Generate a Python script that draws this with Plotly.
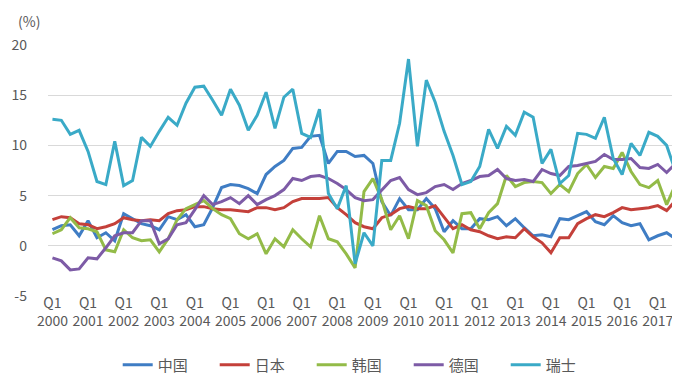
import plotly.graph_objects as go

# Quarterly categories 2000Q1 .. 2017Q3
years = list(range(2000, 2018))
quarters = [f"{y}Q{q}" for y in years for q in range(1, 5)][:71]

tick_years = list(range(2000, 2018))
tick_labels = [f"Q1<br>{y}" for y in tick_years]

china = [1.6, 2.0, 2.1, 1.0, 2.5, 0.8, 1.3, 0.5, 3.2, 2.7, 2.2, 2.0, 1.6, 2.9, 2.6, 3.1,
         1.9, 2.1, 3.8, 5.8, 6.1, 6.0, 5.7, 5.2, 7.1, 7.9, 8.5, 9.7, 9.8, 10.9, 11.0, 8.2,
         9.4, 9.4, 8.9, 9.0, 8.2, 4.4, 3.0, 4.7, 3.6, 3.6, 4.7, 3.7, 1.4, 2.5, 1.7, 1.7,
         2.7, 2.6, 2.9, 2.0, 2.7, 1.8, 1.0, 1.1, 0.9, 2.7, 2.6, 3.0, 3.4, 2.4, 2.1, 3.0,
         2.3, 2.0, 2.2, 0.6, 1.0, 1.3, 0.7]
japan = [2.6, 2.9, 2.8, 2.2, 2.1, 1.7, 1.9, 2.2, 2.8, 2.6, 2.5, 2.6, 2.5, 3.2, 3.5, 3.6,
         3.9, 3.9, 3.7, 3.6, 3.6, 3.5, 3.4, 3.8, 3.8, 3.6, 3.8, 4.4, 4.7, 4.7, 4.7, 4.8,
         3.8, 3.1, 2.3, 1.9, 1.7, 2.8, 3.1, 3.7, 3.9, 3.7, 3.7, 4.0, 2.9, 1.7, 2.1, 1.6,
         1.4, 1.0, 0.7, 0.9, 0.8, 1.7, 0.9, 0.3, -0.7, 0.8, 0.8, 2.2, 2.7, 3.1, 2.9, 3.3,
         3.8, 3.6, 3.7, 3.8, 4.0, 3.5, 4.5]
korea = [1.2, 1.6, 2.8, 1.8, 1.7, 1.4, -0.4, -0.6, 1.6, 0.8, 0.5, 0.6, -0.6, 0.7, 2.6, 3.7,
         4.1, 4.5, 3.7, 3.1, 2.7, 1.2, 0.7, 1.2, -0.8, 0.7, -0.1, 1.6, 0.7, -0.1, 3.0, 0.7,
         0.4, -0.8, -2.2, 5.4, 6.7, 4.6, 1.6, 3.0, 0.7, 4.5, 4.0, 1.5, 0.6, -0.7, 3.2, 3.3,
         1.7, 3.3, 4.2, 7.0, 5.9, 6.3, 6.4, 6.3, 5.2, 6.1, 5.4, 7.2, 8.1, 6.8, 7.9, 7.7,
         9.3, 7.4, 6.1, 5.8, 6.5, 4.1, 6.1]
germany = [-1.2, -1.5, -2.4, -2.3, -1.2, -1.3, -0.2, 1.0, 1.3, 1.3, 2.5, 2.5, 0.2, 0.7, 2.1, 2.3,
           3.6, 5.0, 4.1, 4.4, 4.8, 4.2, 5.0, 4.1, 4.6, 5.0, 5.6, 6.7, 6.5, 6.9, 7.0, 6.7,
           6.2, 5.6, 4.8, 4.5, 4.6, 5.5, 6.5, 6.8, 5.6, 5.1, 5.3, 5.9, 6.1, 5.6, 6.2, 6.5,
           6.9, 7.0, 7.6, 6.7, 6.5, 6.6, 6.4, 7.6, 7.2, 7.0, 7.9, 8.0, 8.2, 8.4, 9.1, 8.6,
           8.6, 8.7, 7.8, 7.7, 8.1, 7.3, 8.2]
swiss = [12.6, 12.5, 11.1, 11.5, 9.4, 6.4, 6.1, 10.4, 6.0, 6.5, 10.8, 9.9, 11.4, 12.8, 12.0, 14.2,
         15.8, 15.9, 14.5, 13.0, 15.6, 14.0, 11.5, 13.0, 15.3, 11.7, 14.8, 15.6, 11.2, 10.8, 13.6, 5.2,
         3.7, 6.0, -1.8, 1.3, 0.0, 8.5, 8.5, 12.2, 18.6, 9.9, 16.5, 14.3, 11.4, 9.0, 6.1, 6.4,
         7.9, 11.6, 9.7, 11.9, 11.0, 13.3, 12.8, 8.2, 9.6, 6.2, 7.0, 11.2, 11.1, 10.7, 12.8, 8.7,
         7.1, 10.2, 9.0, 11.3, 10.9, 10.0, 7.4]

series_names = ["中国", "日本", "韩国", "德国", "瑞士"]
series_values = [china, japan, korea, germany, swiss]
colors = ["#3F7DC4", "#C4403A", "#93BB48", "#7D5BA6", "#3AAAC7"]

x_idx = list(range(len(quarters)))
tick_vals = [quarters.index(f"{y}Q1") for y in tick_years]

font_family = "Noto Sans CJK SC, DejaVu Sans, sans-serif"

fig = go.Figure()
for name, vals, col in zip(series_names, series_values, colors):
    fig.add_trace(go.Scatter(
        x=x_idx, y=vals, mode="lines", name=name,
        line=dict(color=col, width=3),
        hovertext=quarters,
    ))

fig.update_layout(
    width=680, height=380,
    margin=dict(l=40, r=8, t=37, b=92, autoexpand=False),
    paper_bgcolor="white", plot_bgcolor="white",
    font=dict(family=font_family, size=14, color="#595959"),
    showlegend=True,
    legend=dict(orientation="h", x=0.494, xanchor="center", y=-0.275, yanchor="middle",
                font=dict(size=15, color="#595959"), itemwidth=30, tracegroupgap=0,
                entrywidth=52),
    xaxis=dict(range=[-0.5, len(quarters) - 0.5], tickmode="array",
               tickvals=tick_vals, ticktext=tick_labels,
               showgrid=False, zeroline=False, showline=False, ticks="",
               tickfont=dict(size=14, color="#595959"), ticklabelstandoff=-3),
    yaxis=dict(range=[-5, 20], tickmode="array", tickvals=[-5, 0, 5, 10, 15, 20],
               ticktext=["-5", "0", "5", "10", "15", "20"],
               showgrid=True, gridcolor="#D9D9D9", gridwidth=1,
               zeroline=False, showline=False, ticks="",
               tickfont=dict(size=14, color="#595959"), ticklabelstandoff=20),
    annotations=[dict(text="(%)", xref="paper", yref="paper", x=-0.0506, y=1.096,
                      xanchor="left", yanchor="middle", showarrow=False,
                      font=dict(size=14, color="#595959"))],
)

fig.write_html("out.html")
